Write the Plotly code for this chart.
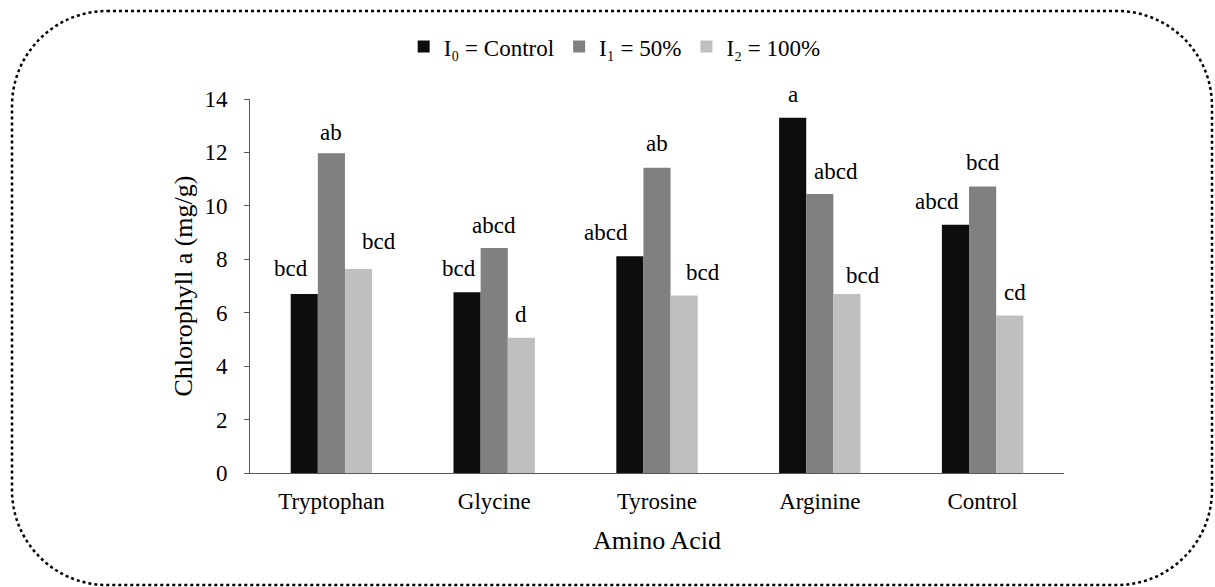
import plotly.graph_objects as go

categories = ["Tryptophan", "Glycine", "Tyrosine", "Arginine", "Control"]
series_names = ["I₀ = Control", "I₁ = 50%", "I₂ = 100%"]
i0_values = [6.70, 6.77, 8.11, 13.30, 9.29]
i1_values = [11.97, 8.42, 11.43, 10.44, 10.72]
i2_values = [7.64, 5.06, 6.64, 6.70, 5.90]
i0_labels = ["bcd", "bcd", "abcd", "a", "abcd"]
i1_labels = ["ab", "abcd", "ab", "abcd", "bcd"]
i2_labels = ["bcd", "d", "bcd", "bcd", "cd"]
y_ticks = [0, 2, 4, 6, 8, 10, 12, 14]

colors = ["#0d0d0d", "#808080", "#bfbfbf"]
FONT = "Liberation Serif, Times New Roman, serif"

# layout geometry (pixels)
W, H = 1215, 587
L, R, T, B = 250, 151, 99, 114
PW = W - L - R
PH = H - T - B
BAR_PX = 27.1

fig = go.Figure()
all_vals = [i0_values, i1_values, i2_values]
all_labels = [i0_labels, i1_labels, i2_labels]
for name, vals, col in zip(series_names, all_vals, colors):
    fig.add_trace(go.Bar(x=categories, y=vals, name=name, marker_color=col,
                         marker_line_width=0))

# label offsets (text placement style)
label_xshift = [[-13, -8, -24, 0, -19], [0, 0, 0, 16, 0], [20, 0, 19, 16, 5]]
label_yshift = [[26, 24, 24, 23, 23], [21, 23, 24, 23, 24], [27, 23, 23, 19, 23]]

annotations = []
for s in range(3):
    for c, cat in enumerate(categories):
        annotations.append(dict(
            x=cat, y=all_vals[s][c], xref="x", yref="y",
            text=all_labels[s][c], showarrow=False,
            xshift=(s - 1) * BAR_PX + label_xshift[s][c],
            yshift=label_yshift[s][c], yanchor="middle",
            font=dict(family=FONT, size=23, color="black")))


def px(x, y):
    return f"{(x - L) / PW:.5f},{(H - B - y) / PH:.5f}"


x0, x1, y0, y1, r = 12, 1212, 11, 585, 95
k = 0.5523 * r
path = (f"M {px(x0 + r, y0)} L {px(x1 - r, y0)} "
        f"C {px(x1 - r + k, y0)} {px(x1, y0 + r - k)} {px(x1, y0 + r)} "
        f"L {px(x1, y1 - r)} "
        f"C {px(x1, y1 - r + k)} {px(x1 - r + k, y1)} {px(x1 - r, y1)} "
        f"L {px(x0 + r, y1)} "
        f"C {px(x0 + r - k, y1)} {px(x0, y1 - r + k)} {px(x0, y1 - r)} "
        f"L {px(x0, y0 + r)} "
        f"C {px(x0, y0 + r - k)} {px(x0 + r - k, y0)} {px(x0 + r, y0)} Z")

fig.update_layout(
    width=W, height=H,
    margin=dict(l=L, r=R, t=T, b=B),
    paper_bgcolor="white", plot_bgcolor="white",
    barmode="group", bargap=0.5, bargroupgap=0,
    font=dict(family=FONT, size=23, color="black"),
    legend=dict(orientation="h", x=0.448, xanchor="center", y=1.14, yanchor="middle",
                font=dict(family=FONT, size=23, color="black"),
                itemwidth=30, traceorder="normal"),
    annotations=annotations,
    shapes=[dict(type="path", path=path, xref="paper", yref="paper",
                 line=dict(color="black", width=2.5, dash="dot"))],
    showlegend=True,
)
fig.update_xaxes(showline=True, linecolor="#595959", linewidth=1, ticks="",
                 showgrid=False, tickfont=dict(size=23), ticklabelstandoff=7,
                 title=dict(text="Amino Acid", font=dict(size=26), standoff=18))
fig.update_yaxes(range=[0, 14], tickvals=y_ticks, showline=True, linecolor="#595959",
                 linewidth=1, ticks="outside", ticklen=5, tickcolor="#595959",
                 showgrid=False, zeroline=False, tickfont=dict(size=23),
                 ticklabelstandoff=12,
                 title=dict(text="Chlorophyll a (mg/g)", font=dict(size=26), standoff=4))

fig.write_html("out.html", config={"displayModeBar": False},
               post_script="document.body.style.margin='0';document.body.style.overflow='hidden';")
